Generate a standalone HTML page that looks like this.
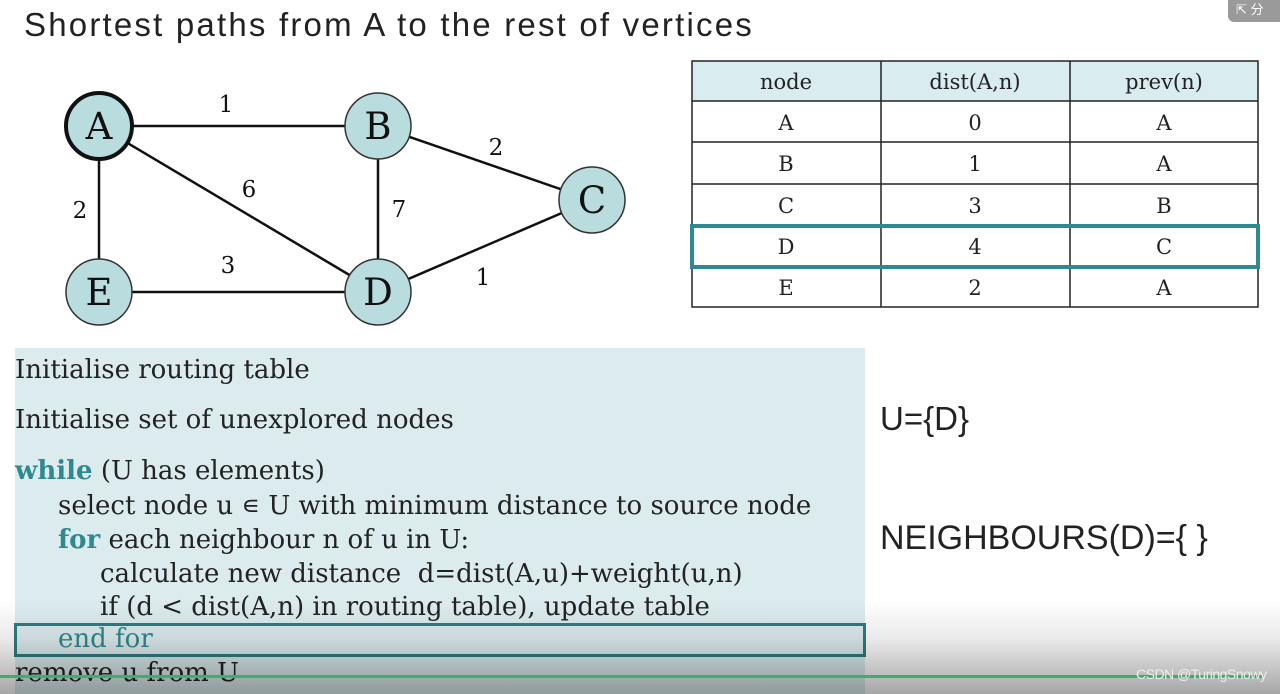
<!DOCTYPE html>
<html><head><meta charset="utf-8"><style>
body{margin:0;width:1280px;height:694px;overflow:hidden;background:#fff;position:relative;font-family:"Liberation Serif",serif;}
.t{position:absolute;white-space:nowrap;color:#222;}
.code{position:absolute;left:15px;top:348px;width:850px;height:346px;background:#dcecee;}
.c{position:absolute;left:15px;font-size:26px;line-height:30px;color:#222;white-space:nowrap;font-family:"DejaVu Serif",serif;}
.k{color:#2e8a8f;font-weight:bold;}
</style></head><body>
<div class="t" style="left:24px;top:6px;font-size:33px;font-family:'Liberation Sans',sans-serif;letter-spacing:2.2px">Shortest paths from A to the rest of vertices</div>
<div style="position:absolute;left:1228px;top:0;width:52px;height:22px;background:#9a9a9a;border-radius:0 0 0 6px;color:#fff;font-size:13px;font-family:'Liberation Sans','Noto Sans CJK SC',sans-serif;padding-left:8px;line-height:20px;box-sizing:border-box">⇱ 分</div>
<svg style="position:absolute;left:0;top:0" width="680" height="340">
<g stroke="#111" stroke-width="2.5">
<line x1="99" y1="126" x2="378" y2="126"/><line x1="99" y1="126" x2="99" y2="292"/>
<line x1="99" y1="126" x2="378" y2="292"/><line x1="378" y1="126" x2="378" y2="292"/>
<line x1="378" y1="126" x2="592" y2="200"/><line x1="99" y1="292" x2="378" y2="292"/>
<line x1="378" y1="292" x2="592" y2="200"/></g>
<g fill="#b9dcdf" stroke="#333" stroke-width="1.5">
<circle cx="99" cy="126" r="33" stroke="#111" stroke-width="4"/><circle cx="378" cy="126" r="33"/>
<circle cx="592" cy="200" r="33"/><circle cx="99" cy="292" r="33"/><circle cx="378" cy="292" r="33"/></g>
<g font-family="DejaVu Serif,serif" font-size="37" text-anchor="middle" fill="#111">
<text x="99" y="139">A</text><text x="378" y="139">B</text><text x="592" y="213">C</text><text x="99" y="305">E</text><text x="378" y="305">D</text></g>
<g font-family="DejaVu Serif,serif" font-size="23" text-anchor="middle" fill="#111">
<text x="226" y="112">1</text><text x="496" y="155">2</text><text x="249" y="197">6</text><text x="80" y="218">2</text>
<text x="399" y="217">7</text><text x="228" y="273">3</text><text x="483" y="285">1</text></g>
</svg>
<svg style="position:absolute;left:0;top:0" width="1280" height="320" font-family="DejaVu Serif,serif" font-size="21" fill="#222">
<rect x="692" y="61" width="566" height="40" fill="#d9ecf0"/>
<g stroke="#222" stroke-width="1.5" fill="none">
<rect x="692" y="61" width="566" height="246"/>
<line x1="881" y1="61" x2="881" y2="307"/><line x1="1070" y1="61" x2="1070" y2="307"/>
<line x1="692" y1="101" x2="1258" y2="101"/><line x1="692" y1="142" x2="1258" y2="142"/>
<line x1="692" y1="184" x2="1258" y2="184"/><line x1="692" y1="225" x2="1258" y2="225"/>
<line x1="692" y1="267" x2="1258" y2="267"/></g>
<rect x="692" y="226" width="566" height="41" fill="none" stroke="#2e8a8f" stroke-width="4"/>
<g text-anchor="middle">
<text x="786" y="89">node</text><text x="975" y="89">dist(A,n)</text><text x="1164" y="89">prev(n)</text>
<text x="786" y="130">A</text><text x="975" y="130">0</text><text x="1164" y="130">A</text>
<text x="786" y="171">B</text><text x="975" y="171">1</text><text x="1164" y="171">A</text>
<text x="786" y="213">C</text><text x="975" y="213">3</text><text x="1164" y="213">B</text>
<text x="786" y="254">D</text><text x="975" y="254">4</text><text x="1164" y="254">C</text>
<text x="786" y="295">E</text><text x="975" y="295">2</text><text x="1164" y="295">A</text></g>
</svg>
<div class="code"></div>
<div class="c" style="top:355px">Initialise routing table</div>
<div class="c" style="top:405px">Initialise set of unexplored nodes</div>
<div class="c" style="top:456px"><span class="k">while</span> (U has elements)</div>
<div class="c" style="top:491px;left:58px">select node u ∊ U with minimum distance to source node</div>
<div class="c" style="top:525px;left:58px"><span class="k">for</span> each neighbour n of u in U:</div>
<div class="c" style="top:559px;left:100px">calculate new distance &nbsp;d=dist(A,u)+weight(u,n)</div>
<div class="c" style="top:592px;left:100px">if (d &lt; dist(A,n) in routing table), update table</div>
<div style="position:absolute;left:14px;top:623px;width:846px;height:28px;border:3px solid #2e7d80"></div>
<div class="c" style="top:624px;left:58px;color:#2e8a8f">end for</div>
<div class="c" style="top:658px">remove u from U</div>
<div class="t" style="left:880px;top:400px;font-size:33px;font-family:'Liberation Sans',sans-serif">U={D}</div>
<div class="t" style="left:880px;top:519px;font-size:34px;font-family:'Liberation Sans',sans-serif">NEIGHBOURS(D)={ }</div>
<div style="position:absolute;left:0;top:600px;width:1280px;height:94px;background:linear-gradient(rgba(0,0,0,0),rgba(0,0,0,0.08) 40%,rgba(0,0,0,0.35))"></div>
<div style="position:absolute;left:0;top:675px;width:1262px;height:3px;background:#3fae6a"></div>
<div class="t" style="left:1136px;top:666px;width:126px;text-align:right;font-size:14px;letter-spacing:-0.5px;color:#eee;font-family:'Liberation Sans',sans-serif">CSDN @TuringSnowy</div>
</body></html>
